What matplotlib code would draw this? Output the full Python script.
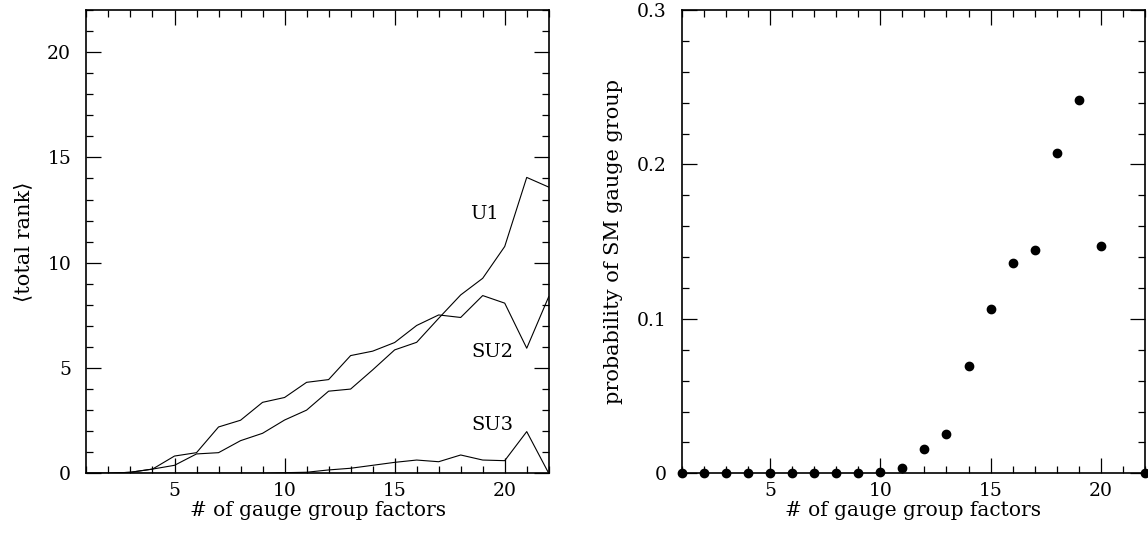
import numpy as np
import matplotlib.pyplot as plt
from matplotlib.ticker import MultipleLocator

# number of gauge group factors
n = np.arange(1, 23)

# <total rank> per gauge group type
u1 = [0, 0, 0.05, 0.2, 0.38, 0.92, 0.98, 1.55, 1.9, 2.53, 3.0, 3.9, 4.0, 4.91,
      5.86, 6.22, 7.36, 8.47, 9.26, 10.77, 14.05, 13.59]
su2 = [0, 0, 0.05, 0.2, 0.82, 0.98, 2.2, 2.52, 3.37, 3.6, 4.32, 4.45, 5.59, 5.8,
       6.21, 7.02, 7.52, 7.4, 8.44, 8.08, 5.94, 8.39]
su3 = [0, 0, 0, 0, 0, 0, 0, 0, 0, 0.03, 0.05, 0.16, 0.24, 0.38, 0.52, 0.63,
       0.55, 0.87, 0.63, 0.6, 1.98, 0]

# probability of SM gauge group (no point at 21)
prob = [0, 0, 0, 0, 0, 0, 0, 0, 0, 0.0007, 0.0037, 0.0157, 0.0252, 0.0697,
        0.1066, 0.1361, 0.1446, 0.2076, 0.2414, 0.1474, np.nan, 0]

plt.rcParams['font.family'] = ['DejaVu Serif', 'DejaVu Sans']

fig = plt.figure(figsize=(11.48, 5.4), dpi=100)
ax1 = fig.add_axes([0.0753, 0.1235, 0.4027, 0.858])
ax2 = fig.add_axes([0.5938, 0.1235, 0.4036, 0.858])


def style(ax):
    for s in ax.spines.values():
        s.set_linewidth(1.2)
    ax.tick_params(which='both', direction='in', top=True, right=True,
                   width=0.9, labelsize=13.5)
    ax.tick_params(which='major', length=10.5)
    ax.tick_params(which='minor', length=5)
    ax.tick_params(axis='x', which='major', pad=6)
    ax.tick_params(axis='y', which='major', pad=11)
    ax.xaxis.set_major_locator(MultipleLocator(5))
    ax.xaxis.set_minor_locator(MultipleLocator(1))
    ax.set_xlim(1, 22)
    ax.set_xlabel('# of gauge group factors', fontsize=14.5, labelpad=1)


# left panel
ax1.plot(n, u1, color='black', lw=0.8)
ax1.plot(n, su2, color='black', lw=0.8)
ax1.plot(n, su3, color='black', lw=0.8)
ax1.text(19.1, 12.3, 'U1', ha='center', va='center', fontsize=14)
ax1.text(19.45, 5.78, 'SU2', ha='center', va='center', fontsize=14)
ax1.text(19.45, 2.3, 'SU3', ha='center', va='center', fontsize=14)
ax1.set_ylim(0, 22)
ax1.yaxis.set_major_locator(MultipleLocator(5))
ax1.yaxis.set_minor_locator(MultipleLocator(1))
ax1.set_ylabel('⟨total rank⟩', fontsize=15, labelpad=10)
style(ax1)

# right panel
ax2.plot(n, prob, 'o', color='black', markersize=6, clip_on=False, zorder=5)
ax2.set_ylim(0, 0.3)
ax2.yaxis.set_major_locator(MultipleLocator(0.1))
ax2.yaxis.set_minor_locator(MultipleLocator(0.02))
ax2.set_yticks([0, 0.1, 0.2, 0.3])
ax2.set_yticklabels(['0', '0.1', '0.2', '0.3'])
ax2.set_ylabel('probability of SM gauge group', fontsize=15, labelpad=10)
style(ax2)

fig.savefig('out.png', dpi=100)
